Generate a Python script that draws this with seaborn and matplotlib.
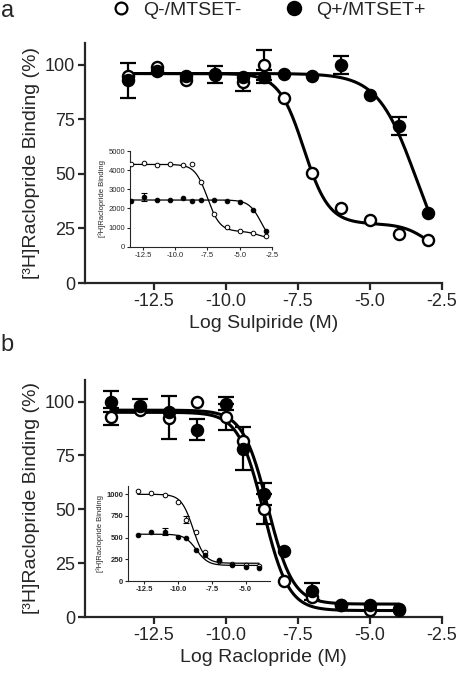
import numpy as np
import pandas as pd
import matplotlib
matplotlib.use("Agg")
import matplotlib.pyplot as plt
import seaborn as sns
from matplotlib.lines import Line2D

sns.set_style("ticks")
plt.rcParams["font.family"] = ["Liberation Sans", "DejaVu Sans"]
plt.rcParams["axes.unicode_minus"] = False

# ---- panel a: sulpiride (main, % binding) ----
sulp_x = [-13.4, -12.4, -11.4, -10.4, -9.4, -8.7, -8.0, -7.0, -6.0, -5.0, -4.0, -3.0]
sulp_open = [95, 99, 93, 96, 92, 100, 85, 50.5, 34.5, 29, 22.5, 19.5]
sulp_open_err = [0, 0, 0, 0, 4, 7, 0, 0, 0, 0, 0, 0]
sulp_filled = [93, 97, 95, 95.5, 94.5, 94.5, 96, 95, 100, 86, 72, 32]
sulp_filled_err = [8, 0, 0, 4, 0, 3, 0, 0, 4, 0, 4, 0]

# inset a (raw counts)
ins_a_open = [4300, 4350, 4260, 4310, 4260, 4330, 3390, 1720, 1020, 830, 690, 580]
ins_a_filled = [2370, 2600, 2460, 2460, 2520, 2400, 2450, 2420, 2400, 2330, 1930, 840]
ins_a_filled_err = [0, 200, 0, 0, 0, 0, 0, 0, 0, 0, 0, 0]

# ---- panel b: raclopride ----
raclo_x = [-14, -13, -12, -11, -10, -9.4, -8.7, -8, -7, -6, -5, -4]
raclo_open = [93, 96, 92.5, 100, 93, 81.5, 50, 16.5, 9.5, 5.5, 3.3, 3.3]
raclo_open_err = [4, 0, 10, 0, 6, 0, 7, 0, 0, 0, 0, 0]
raclo_filled = [100, 98, 95, 87, 99, 78, 57, 30.5, 12, 5.5, 5.5, 3.5]
raclo_filled_err = [5, 3, 0, 5, 3, 10, 5, 0, 4, 0, 0, 0]

# inset b
ins_b_x = [-13, -12, -11, -10, -9.4, -8.7, -8, -7, -6, -5, -4]
ins_b_open = [1040, 1020, 990, 915, 705, 570, 340, 235, 195, 185, 175]
ins_b_open_err = [0, 0, 0, 0, 40, 0, 0, 0, 0, 0, 0]
ins_b_filled = [525, 565, 570, 510, 495, 360, 295, 245, 190, 165, 155]
ins_b_filled_err = [0, 0, 45, 0, 0, 0, 0, 0, 0, 0, 0]

# fitted curve parameters
# one site: top, bottom, logIC50, hill ; two site: top, bottom, frac, logIC1, logIC2, hill
fit_a_open = (96, 12, 0.82, -7.3, -3.0, 1.0)
fit_a_filled = (96, 0, -3.4, 0.65)
fit_ia_open = (4300, 400, 0.897, -7.5, -3.5, 0.9)
fit_ia_filled = (2440, 0, -3.3, 0.9)
fit_b_open = (95, 3.0, -8.7, 1.0)
fit_b_filled = (96, 6.0, -8.55, 1.0)
fit_ib_open = (1000, 205, -8.9, 1.0)
fit_ib_filled = (540, 180, -8.65, 1.0)


def one_site(x, top, bottom, ic, hill):
    return bottom + (top - bottom) / (1 + 10 ** ((x - ic) * hill))


def two_site(x, top, bottom, frac, ic1, ic2, hill):
    return bottom + (top - bottom) * (frac / (1 + 10 ** ((x - ic1) * hill))
                                      + (1 - frac) / (1 + 10 ** ((x - ic2) * hill)))


def draw(ax, x, y, err, filled, curve, s, mew, lw, cap, elw):
    xs = np.linspace(min(x), max(x), 300)
    if len(curve) == 6:
        ys = two_site(xs, *curve)
    else:
        ys = one_site(xs, *curve)
    sns.lineplot(x=xs, y=ys, ax=ax, color="black", lw=lw, zorder=2)
    df = pd.DataFrame({"x": x, "y": y, "e": err})
    d = df[df.e > 0]
    ax.errorbar(d.x, d.y, yerr=d.e, fmt="none", ecolor="black",
                elinewidth=elw, capsize=cap, capthick=elw, zorder=3)
    sns.scatterplot(data=df, x="x", y="y", ax=ax, s=s,
                    color="black" if filled else "white",
                    edgecolor="black", linewidth=mew, zorder=5 if filled else 4)


def style_main(ax, xlabel):
    ax.set_xlim(-14.9, -2.5)
    ax.set_ylim(0, 110)
    ax.set_xticks([-12.5, -10.0, -7.5, -5.0, -2.5])
    ax.set_xticklabels(["-12.5", "-10.0", "-7.5", "-5.0", "-2.5"])
    ax.set_yticks([0, 25, 50, 75, 100])
    sns.despine(ax=ax)
    for sp in ["left", "bottom"]:
        ax.spines[sp].set_linewidth(1.6)
    ax.tick_params(length=5, width=1.6, labelsize=13, pad=2)
    ax.set_xlabel(xlabel, fontsize=14)
    ax.set_ylabel("[³H]Raclopride Binding (%)", fontsize=14)
    ax.yaxis.set_label_coords(-0.125, 0.5)


def style_inset(ax, xlim, ylim, xt, yt, bold):
    ax.set_xlim(*xlim)
    ax.set_ylim(*ylim)
    ax.set_xticks(xt)
    ax.set_xticklabels([f"{v:.1f}" for v in xt])
    ax.set_yticks(yt)
    sns.despine(ax=ax)
    ax.patch.set_alpha(0)
    for sp in ["left", "bottom"]:
        ax.spines[sp].set_linewidth(0.8)
    ax.tick_params(length=2, width=0.8, labelsize=5.5, pad=1.5)
    ax.set_xlabel("")
    ax.set_ylabel("[³H]Raclopride Binding", fontsize=5.5, labelpad=2)
    if bold:
        for t in ax.get_xticklabels() + ax.get_yticklabels():
            t.set_fontweight("bold")


fig = plt.figure(figsize=(4.59, 6.79), dpi=100)
ax_a = fig.add_axes([0.1852, 0.5832, 0.7778, 0.3535])
ax_b = fig.add_axes([0.1852, 0.0913, 0.7778, 0.3491])
in_a = fig.add_axes([0.2832, 0.6367, 0.3094, 0.1409])
in_b = fig.add_axes([0.2795, 0.1443, 0.3087, 0.1405])

big = dict(s=64, mew=1.7, lw=2.2, cap=6, elw=1.6)
small = dict(s=11, mew=0.7, lw=0.9, cap=2.5, elw=0.8)

draw(ax_a, sulp_x, sulp_open, sulp_open_err, False, fit_a_open, **big)
draw(ax_a, sulp_x, sulp_filled, sulp_filled_err, True, fit_a_filled, **big)
draw(in_a, sulp_x, ins_a_open, [0] * 12, False, fit_ia_open, **small)
draw(in_a, sulp_x, ins_a_filled, ins_a_filled_err, True, fit_ia_filled, **small)

draw(ax_b, raclo_x, raclo_open, raclo_open_err, False, fit_b_open, **big)
draw(ax_b, raclo_x, raclo_filled, raclo_filled_err, True, fit_b_filled, **big)
draw(in_b, ins_b_x, ins_b_open, ins_b_open_err, False, fit_ib_open, **small)
draw(in_b, ins_b_x, ins_b_filled, ins_b_filled_err, True, fit_ib_filled, **small)

style_main(ax_a, "Log Sulpiride (M)")
style_main(ax_b, "Log Raclopride (M)")
style_inset(in_a, (-13.5, -2.5), (0, 5000), [-12.5, -10.0, -7.5, -5.0, -2.5],
            [0, 1000, 2000, 3000, 4000, 5000], False)
style_inset(in_b, (-13.7, -3.2), (0, 1100), [-12.5, -10.0, -7.5, -5.0],
            [0, 250, 500, 750, 1000], True)

handles = [
    Line2D([], [], marker="o", ls="none", markerfacecolor="white",
           markeredgecolor="black", markersize=8.5, mew=1.6),
    Line2D([], [], marker="o", ls="none", markerfacecolor="black",
           markeredgecolor="black", markersize=9.5, mew=1.6),
]
fig.legend(handles, ["Q-/MTSET-", "Q+/MTSET+"], loc="center left",
           bbox_to_anchor=(0.2425, 0.985), ncol=2, frameon=False, fontsize=14,
           handlelength=1.0, handletextpad=0.63, columnspacing=2.2,
           borderpad=0, borderaxespad=0)

fig.text(0.002, 1.0, "a", fontsize=17, va="top", ha="left")
fig.text(0.002, 0.508, "b", fontsize=17, va="top", ha="left")

fig.savefig("out.png", dpi=100)
